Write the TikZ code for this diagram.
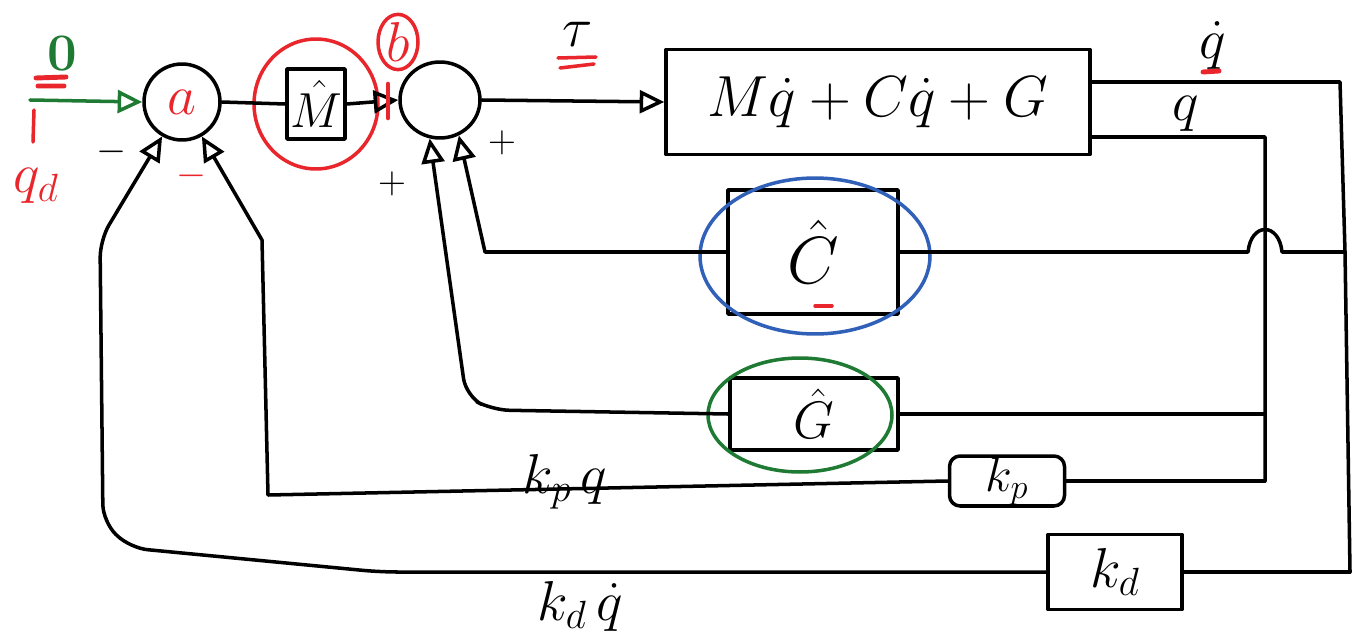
\documentclass[tikz,border=0pt]{standalone}
\usepackage{fix-cm}
\usepackage{amsmath, amssymb}
\usepackage{tikz}
\usetikzlibrary{arrows.meta, shapes.geometric}

\definecolor{penred}{HTML}{E8262B}
\definecolor{pengreen}{HTML}{1F7A34}
\definecolor{penblue}{HTML}{3060B8}

\begin{document}
\begin{tikzpicture}[x=0.02cm, y=-0.02cm, line width=2pt, line cap=round, line join=round,
	every node/.style={font=\fontsize{32}{34}\selectfont},
	blk/.style={draw, rectangle, inner sep=0pt},
	sumnode/.style={draw, circle, inner sep=0pt, minimum size=1.52cm},
	arr/.style={-{Triangle[open, length=14pt, width=13pt]}},
	small/.style={font=\fontsize{22}{24}\selectfont}]
	\useasboundingbox (0,0) rectangle (1364,642);
	
	% --- 前向通道 ---
	% 求和点 a 与 b
	\node[sumnode, text=penred] (suma) at (182,102) {$a$};
	\node[draw, ellipse, inner sep=0pt, minimum width=1.6cm, minimum height=1.52cm] (sumb) at (440,100) {};
	
	% 方框
	\node[blk, minimum width=1.16cm, minimum height=1.4cm, font=\fontsize{28}{30}\selectfont] (Mhat) at (316,104) {$\hat{M}$};
	\node[blk, minimum width=8.48cm, minimum height=2.1cm, font=\fontsize{33}{36}\selectfont] (plant) at (878,102) {$M\dot{q} + C\dot{q} + G$};
	\node[blk, minimum width=3.4cm, minimum height=2.48cm, font=\fontsize{38}{40}\selectfont] (Chat) at (813,252) {$\hat{C}$};
	\node[blk, minimum width=3.36cm, minimum height=1.44cm, font=\fontsize{30}{32}\selectfont] (Ghat) at (814,414) {$\hat{G}$};
	\node[blk, rounded corners=6pt, minimum width=2.3cm, minimum height=1.0cm, font=\fontsize{28}{30}\selectfont] (Kp) at (1007,481) {$k_p$};
	\node[blk, minimum width=2.68cm, minimum height=1.5cm] (Kd) at (1115,572) {$k_d$};
	
	% 彩色圈注
	\draw[penred] (Mhat.center) ellipse [x radius=1.24cm, y radius=1.3cm];
	\draw[penblue] (815,256) ellipse [x radius=2.3cm, y radius=1.56cm];
	\draw[pengreen] (800,415) ellipse [x radius=1.84cm, y radius=1.14cm];
	\node[draw=penred, ellipse, text=penred, inner sep=0pt, minimum width=0.8cm, minimum height=1.0cm] (blabel) at (398,42) {$b$};
	
	% 连线
	\coordinate (qdin) at (30,100);
	\draw[pengreen, arr] (qdin) -- (suma.west);
	\draw (suma.east) -- (Mhat.west);
	\draw[arr] (Mhat.east) -- (sumb.west);
	\draw[arr] (sumb.east) -- (plant.west);
	
	% --- 输出 q 与 \dot q ---
	\coordinate (qdtop) at (1340,82);
	\coordinate (qdC) at (1345,252);
	\coordinate (qdKd) at (1350,572);
	\draw ([yshift=0.4cm]plant.east) -- (qdtop) -- (qdC) -- (qdKd);
	
	\coordinate (qtop) at (1265,137);
	\coordinate (qG) at (1265,414);
	\coordinate (qKp) at (1265,481);
	\draw ([yshift=-0.7cm]plant.east) -- (qtop) -- (qKp);
	
	% 跨线小弧
	\coordinate (humpR) at (1282,252);
	\coordinate (humpL) at (1248,252);
	\draw (qdC) -- (humpR) .. controls (1279,222) and (1251,222) .. (humpL) -- (Chat.east);
	\draw (qG) -- (Ghat.east);
	\draw (qKp) -- (Kp.east);
	\draw (qdKd) -- (Kd.east);
	
	% --- 反馈 ---
	\coordinate (cturn) at (485,252);
	\draw[arr] (Chat.west) -- (cturn) -- (sumb.-62);
	
	\coordinate (gturn1) at (492,410);
	\coordinate (gturn2) at (466,396);
	\draw[arr, rounded corners=10pt] (Ghat.west) -- (gturn1) -- (gturn2) -- (sumb.-105);
	
	\coordinate (kpturn) at (268,495);
	\coordinate (kpup) at (262,240);
	\draw[arr] (Kp.west) -- (kpturn) -- (kpup) -- (suma.-60);
	
	\coordinate (kdmid) at (380,572);
	\coordinate (kdturn) at (130,548);
	\coordinate (kdbend) at (103,522);
	\coordinate (kdup) at (100,240);
	\draw[arr, rounded corners=10pt] (Kd.west) -- (kdmid) -- (kdturn) -- (kdbend) -- (kdup) -- (suma.-120);
	
	% --- 标注 ---
	\node[pengreen, font=\bfseries\fontsize{30}{32}\selectfont] (zero) at (62,54) {0};
	\draw[penred, line width=2.8pt] (36,78) -- (66,77) (38,86) -- (64,86);
	\draw[penred] (34,110) -- (33,142);
	\node[penred] (qd) at (36,186) {$q_d$};
	
	\node[small] (minus1) at (112,152) {$-$};
	\node[small, text=penred] (minus2) at (192,176) {$-$};
	\node[small] (plus1) at (392,184) {$+$};
	\node[small] (plus2) at (502,143) {$+$};
	\draw[penred, line width=2.6pt] (388,84) -- (388,118);
	
	\node (tau) at (578,34) {$\tau$};
	\draw[penred] (558,58) -- (596,57) (560,68) -- (594,64);
	
	\node (qdlabel) at (1213,46) {$\dot{q}$};
	\draw[penred, line width=2.8pt] (1203,72) -- (1219,71);
	\node (qlabel) at (1186,114) {$q$};
	\draw[penred] (815,306) -- (832,306);
	
	\node (kpq) at (565,482) {$k_p\,q$};
	\node (kdq) at (580,606) {$k_d\,\dot{q}$};
\end{tikzpicture}
\end{document}
